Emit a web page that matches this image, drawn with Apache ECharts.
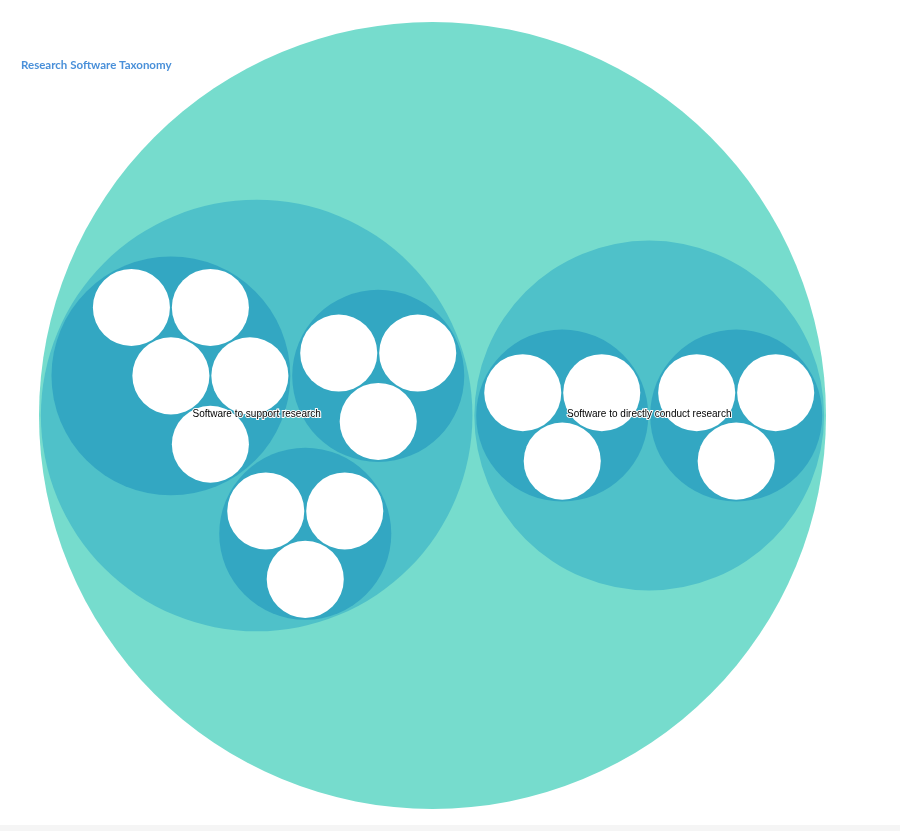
<!DOCTYPE html>
<html>
<head>
<meta charset="utf-8">
<title>Research Software Taxonomy</title>
<script src="https://cdn.jsdelivr.net/npm/echarts@6/dist/echarts.min.js"></script>
<style>
  html, body { margin: 0; padding: 0; background: #fff; overflow: hidden; }
  #chart { width: 900px; height: 825px; }
  #footer { width: 900px; height: 6px; background: #f5f5f5; }
</style>
</head>
<body>
<div id="chart"></div>
<div id="footer"></div>
<script>
// taxonomy data
const rootName = 'Research Software'
const branchNames = ['Software to support research', 'Software to directly conduct research']
const groupNames = [
  ['Support group 1', 'Support group 2', 'Support group 3'],
  ['Conduct group 1', 'Conduct group 2']
]
const leafCounts = [[5, 3, 3], [3, 3]]
const leafValue = 1

const depthColors = ['#76dccd', '#4fc1c9', '#33a7c2']
const leafColor = '#ffffff'

const packSize = 787
const packPadding = 2

function buildTree () {
  const root = { name: rootName, depth: 0, children: [] }
  branchNames.forEach((bn, i) => {
    const branch = { name: bn, depth: 1, parent: root, children: [] }
    groupNames[i].forEach((gn, j) => {
      const group = { name: gn, depth: 2, parent: branch, children: [] }
      for (let k = 0; k < leafCounts[i][j]; k++) {
        group.children.push({ name: gn + ' ' + (k + 1), depth: 3, parent: group, value: leafValue })
      }
      branch.children.push(group)
    })
    root.children.push(branch)
  })
  eachAfter(root, n => {
    if (n.children) {
      n.value = n.children.reduce((s, c) => s + c.value, 0)
      n.children.sort((a, b) => b.value - a.value)
    }
  })
  return root
}

function eachBefore (node, fn) {
  fn(node)
  if (node.children) node.children.forEach(c => eachBefore(c, fn))
}

function eachAfter (node, fn) {
  if (node.children) node.children.forEach(c => eachAfter(c, fn))
  fn(node)
}

// --- circle packing (front-chain, as in d3-hierarchy) ---
function place (b, a, c) {
  const dx = b.x - a.x
  const dy = b.y - a.y
  const d2 = dx * dx + dy * dy
  let x, y
  if (d2) {
    let a2 = a.r + c.r; a2 *= a2
    let b2 = b.r + c.r; b2 *= b2
    if (a2 > b2) {
      x = (d2 + b2 - a2) / (2 * d2)
      y = Math.sqrt(Math.max(0, b2 / d2 - x * x))
      c.x = b.x - x * dx - y * dy
      c.y = b.y - x * dy + y * dx
    } else {
      x = (d2 + a2 - b2) / (2 * d2)
      y = Math.sqrt(Math.max(0, a2 / d2 - x * x))
      c.x = a.x + x * dx - y * dy
      c.y = a.y + x * dy + y * dx
    }
  } else {
    c.x = a.x + c.r
    c.y = a.y
  }
}

function intersects (a, b) {
  const dr = a.r + b.r - 1e-6
  const dx = b.x - a.x
  const dy = b.y - a.y
  return dr > 0 && dr * dr > dx * dx + dy * dy
}

function score (node) {
  const a = node._
  const b = node.next._
  const ab = a.r + b.r
  const dx = (a.x * b.r + b.x * a.r) / ab
  const dy = (a.y * b.r + b.y * a.r) / ab
  return dx * dx + dy * dy
}

function enclosesWeak (a, b) {
  const dr = a.r - b.r + Math.max(a.r, b.r, 1) * 1e-9
  const dx = b.x - a.x
  const dy = b.y - a.y
  return dr > 0 && dr * dr > dx * dx + dy * dy
}

function enclose2 (a, b) {
  const x21 = b.x - a.x
  const y21 = b.y - a.y
  const r21 = b.r - a.r
  const l = Math.sqrt(x21 * x21 + y21 * y21)
  return { x: (a.x + b.x + x21 / l * r21) / 2, y: (a.y + b.y + y21 / l * r21) / 2, r: (l + a.r + b.r) / 2 }
}

function enclose3 (a, b, c) {
  const x1 = a.x, y1 = a.y, r1 = a.r
  const x2 = b.x, y2 = b.y, r2 = b.r
  const x3 = c.x, y3 = c.y, r3 = c.r
  const a2 = x1 - x2, a3 = x1 - x3, b2 = y1 - y2, b3 = y1 - y3
  const c2 = r2 - r1, c3 = r3 - r1
  const d1 = x1 * x1 + y1 * y1 - r1 * r1
  const d2 = d1 - x2 * x2 - y2 * y2 + r2 * r2
  const d3 = d1 - x3 * x3 - y3 * y3 + r3 * r3
  const ab = a3 * b2 - a2 * b3
  const xa = (b2 * d3 - b3 * d2) / (ab * 2) - x1
  const xb = (b3 * c2 - b2 * c3) / ab
  const ya = (a3 * d2 - a2 * d3) / (ab * 2) - y1
  const yb = (a2 * c3 - a3 * c2) / ab
  const A = xb * xb + yb * yb - 1
  const B = 2 * (r1 + xa * xb + ya * yb)
  const C = xa * xa + ya * ya - r1 * r1
  const r = -(Math.abs(A) > 1e-6 ? (B + Math.sqrt(B * B - 4 * A * C)) / (2 * A) : C / B)
  return { x: x1 + xa + xb * r, y: y1 + ya + yb * r, r: r }
}

// smallest enclosing circle, brute force (sibling sets are tiny)
function enclose (circles) {
  const ok = e => e && isFinite(e.x) && isFinite(e.y) && isFinite(e.r) && circles.every(c => enclosesWeak(e, c))
  let best = null
  const consider = e => { if (ok(e) && (!best || e.r < best.r)) best = e }
  const n = circles.length
  for (let i = 0; i < n; i++) {
    consider({ x: circles[i].x, y: circles[i].y, r: circles[i].r })
    for (let j = i + 1; j < n; j++) {
      consider(enclose2(circles[i], circles[j]))
      for (let k = j + 1; k < n; k++) consider(enclose3(circles[i], circles[j], circles[k]))
    }
  }
  return best
}

function packSiblings (circles) {
  const n = circles.length
  if (!n) return 0
  let a = circles[0]; a.x = 0; a.y = 0
  if (n < 2) return a.r
  let b = circles[1]; a.x = -b.r; b.x = a.r; b.y = 0
  if (n < 3) return a.r + b.r
  let c = circles[2]
  place(b, a, c)

  a = { _: a }; b = { _: b }; c = { _: c }
  a.next = c.previous = b
  b.next = a.previous = c
  c.next = b.previous = a

  pack: for (let i = 3; i < n; ++i) {
    c = circles[i]
    place(a._, b._, c)
    c = { _: c }
    let j = b.next, k = a.previous, sj = b._.r, sk = a._.r
    do {
      if (sj <= sk) {
        if (intersects(j._, c._)) {
          b = j; a.next = b; b.previous = a; --i
          continue pack
        }
        sj += j._.r; j = j.next
      } else {
        if (intersects(k._, c._)) {
          a = k; a.next = b; b.previous = a; --i
          continue pack
        }
        sk += k._.r; k = k.previous
      }
    } while (j !== k.next)

    c.previous = a; c.next = b; a.next = b.previous = b = c

    let aa = score(a)
    while ((c = c.next) !== b) {
      const ca = score(c)
      if (ca < aa) { a = c; aa = ca }
    }
    b = a.next
  }

  const e = enclose(circles)
  circles.forEach(ci => { ci.x -= e.x; ci.y -= e.y })
  return e.r
}

function packChildren (padding, k) {
  return node => {
    if (!node.children) return
    const r = padding * k || 0
    if (r) node.children.forEach(c => { c.r += r })
    const e = packSiblings(node.children)
    if (r) node.children.forEach(c => { c.r -= r })
    node.r = e + r
  }
}

function pack (root, size, padding) {
  root.x = size / 2
  root.y = size / 2
  eachBefore(root, n => { if (!n.children) n.r = Math.sqrt(n.value) })
  eachAfter(root, packChildren(0, 1))
  eachAfter(root, packChildren(padding, root.r / size))
  const s = size / (2 * root.r)
  eachBefore(root, n => {
    n.r *= s
    if (n.parent) {
      n.x = n.parent.x + s * n.x
      n.y = n.parent.y + s * n.y
    }
  })
}

const root = buildTree()
pack(root, packSize, packPadding)

const nodes = []
eachBefore(root, n => nodes.push(n))
const seriesData = nodes.map(n => [n.x, n.y, n.r, n.depth])

const myChart = echarts.init(document.getElementById('chart'))

const option = {
  animation: false,
  title: {
    text: 'Research Software Taxonomy',
    left: 16,
    top: 54,
    textStyle: {
      fontFamily: 'Lato, "Open Sans", sans-serif',
      fontSize: 11.5,
      fontWeight: 'bold',
      color: '#4a90d9'
    }
  },
  grid: { left: 39, top: 22, width: packSize, height: packSize },
  xAxis: { type: 'value', min: 0, max: packSize, show: false },
  yAxis: { type: 'value', min: 0, max: packSize, inverse: true, show: false },
  series: [{
    type: 'custom',
    coordinateSystem: 'cartesian2d',
    silent: true,
    data: seriesData,
    renderItem (params, api) {
      const node = nodes[params.dataIndex]
      const p = api.coord([api.value(0), api.value(1)])
      const r = api.size([api.value(2), 0])[0]
      const depth = api.value(3)
      const children = [{
        type: 'circle',
        shape: { cx: p[0], cy: p[1], r: r },
        style: { fill: node.children ? depthColors[depth] : leafColor }
      }]
      if (depth === 1) {
        children.push({
          type: 'text',
          z2: 100,
          x: p[0],
          y: p[1] - 1.5,
          style: {
            text: node.name,
            fill: '#000',
            stroke: '#fff',
            lineWidth: 2,
            font: '10px "Liberation Sans", Arial, sans-serif',
            align: 'center',
            verticalAlign: 'middle'
          }
        })
      }
      return { type: 'group', children: children }
    }
  }]
}

myChart.setOption(option)
</script>
</body>
</html>
